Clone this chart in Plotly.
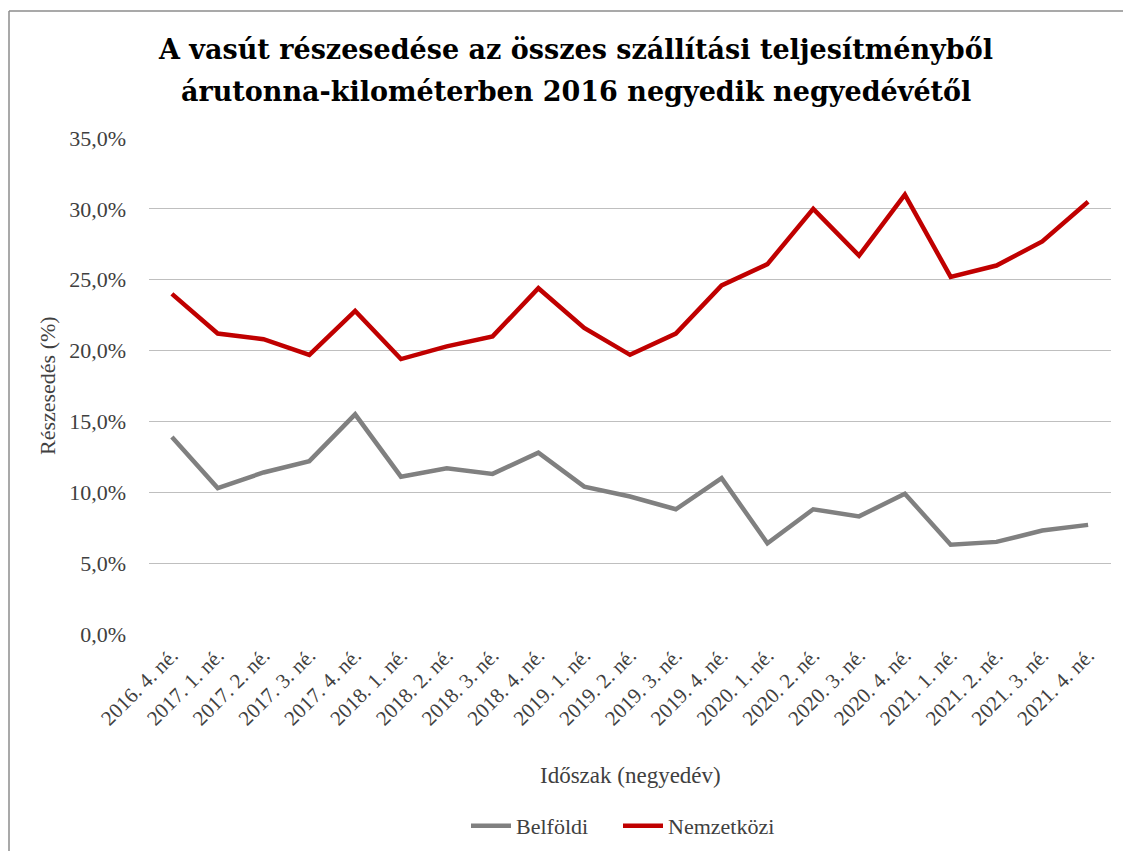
import plotly.graph_objects as go

categories = ["2016. 4. né.", "2017. 1. né.", "2017. 2. né.", "2017. 3. né.", "2017. 4. né.",
              "2018. 1. né.", "2018. 2. né.", "2018. 3. né.", "2018. 4. né.",
              "2019. 1. né.", "2019. 2. né.", "2019. 3. né.", "2019. 4. né.",
              "2020. 1. né.", "2020. 2. né.", "2020. 3. né.", "2020. 4. né.",
              "2021. 1. né.", "2021. 2. né.", "2021. 3. né.", "2021. 4. né."]

belfoldi = [13.9, 10.3, 11.4, 12.2, 15.5, 11.1, 11.7, 11.3, 12.8,
            10.4, 9.7, 8.8, 11.0, 6.4, 8.8, 8.3, 9.9, 6.3, 6.5, 7.3, 7.7]

nemzetkozi = [24.0, 21.2, 20.8, 19.7, 22.8, 19.4, 20.3, 21.0, 24.4,
              21.6, 19.7, 21.2, 24.6, 26.1, 30.0, 26.7, 31.0, 25.2, 26.0, 27.7, 30.5]

y_ticks = [0, 5, 10, 15, 20, 25, 30, 35]
y_tick_labels = ["0,0%", "5,0%", "10,0%", "15,0%", "20,0%", "25,0%", "30,0%", "35,0%"]

title_lines = ["A vasút részesedése az összes szállítási teljesítményből",
               "árutonna-kilométerben 2016 negyedik negyedévétől"]
x_title = "Időszak (negyedév)"
y_title = "Részesedés (%)"

FONT = "Liberation Serif"
TFONT = "DejaVu Serif"
TXT = "#404040"

fig = go.Figure()
fig.add_trace(go.Scatter(x=categories, y=belfoldi, mode="lines", name="Belföldi",
                         line=dict(color="#808080", width=4.5), legend="legend"))
fig.add_trace(go.Scatter(x=categories, y=nemzetkozi, mode="lines", name="Nemzetközi",
                         line=dict(color="#C00000", width=4.5), legend="legend2"))

OFF = 8  # page body margin
W, H = 1131 - OFF - 4, 855 - OFF - 4
L, T = 149 - OFF, 138 - OFF
R = W - (1111 - OFF)
B = H - (634 - OFF)
pw, ph = W - L - R, H - T - B

def px(x):
    return (x - OFF - L) / pw

def py(y):
    return (H - B - (y - OFF)) / ph

leg_common = dict(orientation="h", xanchor="left", y=py(826), yanchor="middle",
                  font=dict(family=FONT, size=22, color=TXT), itemwidth=40,
                  bgcolor="rgba(0,0,0,0)")

fig.update_layout(
    width=W, height=H,
    margin=dict(l=L, r=R, t=T, b=B, autoexpand=False),
    paper_bgcolor="white", plot_bgcolor="white",
    font=dict(family=FONT, color=TXT),
    showlegend=True,
    legend=dict(x=px(466), **leg_common),
    legend2=dict(x=px(618), **leg_common),
    annotations=[
        dict(text="<b>" + title_lines[0] + "</b>", xref="paper", yref="paper",
             x=px(575), y=py(49), xanchor="center", yanchor="middle", showarrow=False,
             font=dict(family=TFONT, size=27, color="black")),
        dict(text="<b>" + title_lines[1] + "</b>", xref="paper", yref="paper",
             x=px(576), y=py(91), xanchor="center", yanchor="middle", showarrow=False,
             font=dict(family=TFONT, size=27, color="black")),
        dict(text=x_title, xref="paper", yref="paper", x=px(630), y=py(775),
             xanchor="center", yanchor="middle", showarrow=False,
             font=dict(family=FONT, size=23, color=TXT)),
        dict(text=y_title, xref="paper", yref="paper", x=px(47), y=py(386),
             xanchor="center", yanchor="middle", showarrow=False, textangle=-90,
             font=dict(family=FONT, size=22, color=TXT)),
    ],
    shapes=[
        dict(type="line", xref="paper", yref="paper", x0=px(9), x1=px(1140), y0=py(11), y1=py(11),
             line=dict(color="#8c8c8c", width=1.5)),
        dict(type="line", xref="paper", yref="paper", x0=px(9), x1=px(9), y0=py(11), y1=py(870),
             line=dict(color="#8c8c8c", width=1.5)),
    ],
)

fig.update_xaxes(
    type="category", tickangle=-45, showgrid=False, zeroline=False,
    showline=False, ticks="", ticklabelstandoff=4,
    tickfont=dict(family=FONT, size=21, color=TXT),
    range=[-0.5, len(categories) - 0.5],
)
fig.update_yaxes(
    range=[0, 35], tickvals=y_ticks, ticktext=y_tick_labels,
    showgrid=True, gridcolor="#BFBFBF", gridwidth=1.3, zeroline=False,
    showline=False, ticks="", ticklabelstandoff=22,
    tickfont=dict(family=FONT, size=22, color=TXT),
)

fig.write_html("out.html")
